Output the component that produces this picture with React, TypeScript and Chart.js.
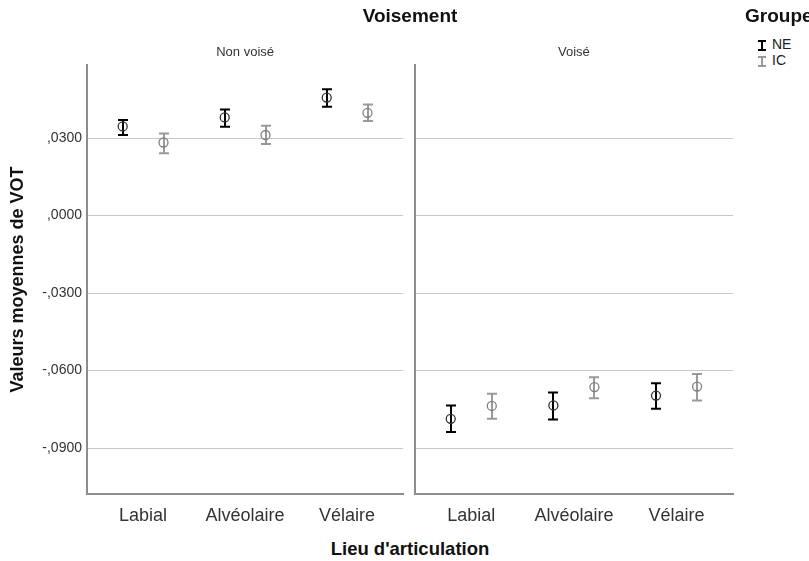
import React, { useEffect, useRef } from 'react';
import { Chart, registerables } from 'chart.js';

Chart.register(...registerables);

// ---------- data ----------
const categories = ['Labial', 'Alvéolaire', 'Vélaire'];
const groups = ['NE', 'IC'];
const yTickValues = [-0.09, -0.06, -0.03, 0, 0.03];

// Non voisé
const nonVoiseNEMean = [0.0345, 0.038, 0.0457];
const nonVoiseNELow = [0.0312, 0.0344, 0.0421];
const nonVoiseNEHigh = [0.037, 0.0411, 0.0489];
const nonVoiseICMean = [0.0283, 0.0312, 0.0398];
const nonVoiseICLow = [0.0241, 0.0277, 0.0366];
const nonVoiseICHigh = [0.0318, 0.0348, 0.043];

// Voisé
const voiseNEMean = [-0.0787, -0.0735, -0.0697];
const voiseNELow = [-0.0838, -0.079, -0.0748];
const voiseNEHigh = [-0.0735, -0.0685, -0.0649];
const voiseICMean = [-0.0737, -0.0664, -0.0662];
const voiseICLow = [-0.0787, -0.0707, -0.0716];
const voiseICHigh = [-0.069, -0.0626, -0.0613];

// ---------- style ----------
const FONT = "'Liberation Sans', Arial, sans-serif";
const NE_BAR = '#000000';
const NE_PT = '#333333';
const IC_BAR = '#999999';
const IC_PT = '#808080';
const GRID = '#c8c8c8';
const AXIS = '#8c8c8c';
const TEXT = '#333333';
const Y_MIN = -0.1078;
const Y_MAX = 0.0583;
const X_MIN = 0.45;
const X_MAX = 3.55;
const OFFSET = 0.2;

const fmtTick = (v: number) => {
  const s = Math.abs(v).toFixed(4).replace(/^0\./, ',');
  return (v < -1e-9 ? '-' : '') + s;
};

const errorBarPlugin = {
  id: 'errorBars',
  beforeDatasetsDraw(chart: any) {
    const { ctx, scales } = chart;
    const x = scales.x;
    const y = scales.y;
    chart.data.datasets.forEach((ds: any) => {
      ctx.save();
      ctx.strokeStyle = ds.errorColor;
      ctx.lineWidth = 2;
      ds.data.forEach((pt: any, j: number) => {
        const px = Math.round(x.getPixelForValue(pt.x));
        const yl = y.getPixelForValue(ds.errLow[j]);
        const yh = y.getPixelForValue(ds.errHigh[j]);
        ctx.beginPath();
        ctx.moveTo(px, yl);
        ctx.lineTo(px, yh);
        ctx.moveTo(px - 5, yl);
        ctx.lineTo(px + 5, yl);
        ctx.moveTo(px - 5, yh);
        ctx.lineTo(px + 5, yh);
        ctx.stroke();
      });
      ctx.restore();
    });
  },
};

type PanelProps = {
  title: string;
  neMean: number[];
  neLow: number[];
  neHigh: number[];
  icMean: number[];
  icLow: number[];
  icHigh: number[];
  showY: boolean;
  left: number;
  width: number;
  padRight: number;
  yWidth: number;
};

function Panel(p: PanelProps) {
  const ref = useRef<HTMLCanvasElement | null>(null);
  useEffect(() => {
    if (!ref.current) return;
    const mk = (means: number[], off: number) =>
      means.map((m, i) => ({ x: i + 1 + off, y: m }));
    const chart = new Chart(ref.current, {
      type: 'scatter',
      data: {
        datasets: [
          {
            label: groups[0],
            data: mk(p.neMean, -OFFSET),
            errLow: p.neLow,
            errHigh: p.neHigh,
            errorColor: NE_BAR,
            pointRadius: 4.5,
            pointBorderWidth: 1.3,
            pointBorderColor: NE_PT,
            pointBackgroundColor: 'rgba(0,0,0,0)',
          } as any,
          {
            label: groups[1],
            data: mk(p.icMean, OFFSET),
            errLow: p.icLow,
            errHigh: p.icHigh,
            errorColor: IC_BAR,
            pointRadius: 4.5,
            pointBorderWidth: 1.3,
            pointBorderColor: IC_PT,
            pointBackgroundColor: 'rgba(0,0,0,0)',
          } as any,
        ],
      },
      options: {
        responsive: false,
        animation: false,
        devicePixelRatio: 1,
        layout: { padding: { left: 0, right: p.padRight, top: 0, bottom: 0 } },
        plugins: {
          legend: { display: false },
          tooltip: { enabled: false },
          title: {
            display: true,
            text: p.title,
            fullSize: false,
            color: TEXT,
            font: { family: FONT, size: 13, weight: 'normal' },
            padding: { top: 45, bottom: 4.4 },
          },
        },
        scales: {
          x: {
            type: 'linear',
            min: X_MIN,
            max: X_MAX,
            afterBuildTicks: (s: any) => {
              s.ticks = categories.map((_, i) => ({ value: i + 1 }));
            },
            afterFit: (s: any) => {
              s.height = 36;
            },
            ticks: {
              callback: (v: any) => categories[Math.round(Number(v)) - 1] ?? '',
              color: TEXT,
              font: { family: FONT, size: 18 },
              padding: 11,
              maxRotation: 0,
              autoSkip: false,
            },
            grid: { display: false, drawTicks: false },
            border: { display: true, color: AXIS, width: 2 },
          },
          y: {
            type: 'linear',
            min: Y_MIN,
            max: Y_MAX,
            afterBuildTicks: (s: any) => {
              s.ticks = yTickValues.map((v) => ({ value: v }));
            },
            afterFit: (s: any) => {
              s.width = p.yWidth;
            },
            ticks: {
              display: p.showY,
              callback: (v: any) => fmtTick(Number(v)),
              color: TEXT,
              font: { family: FONT, size: 14 },
              padding: 5,
            },
            grid: { display: true, color: GRID, lineWidth: 1, drawTicks: false },
            border: { display: true, color: AXIS, width: 2 },
            title: {
              display: p.showY,
              text: 'Valeurs moyennes de VOT',
              color: '#111',
              font: { family: FONT, size: 18, weight: 'bold' },
              padding: { top: 7, bottom: 0 },
            },
          },
        },
      },
      plugins: [errorBarPlugin],
    } as any);
    return () => chart.destroy();
  }, []);
  return (
    <canvas
      ref={ref}
      width={p.width}
      height={530}
      style={{ position: 'absolute', left: p.left, top: 0, width: p.width, height: 530 }}
    />
  );
}

function LegendIcon({ color }: { color: string }) {
  return (
    <span
      style={{
        position: 'relative',
        display: 'inline-block',
        width: 8,
        height: 11,
        borderTop: `2px solid ${color}`,
        borderBottom: `2px solid ${color}`,
        boxSizing: 'border-box',
        marginRight: 6,
        verticalAlign: 'middle',
      }}
    >
      <span
        style={{
          position: 'absolute',
          left: 3,
          top: 0,
          width: 2,
          height: 7,
          background: color,
        }}
      />
    </span>
  );
}

export default function App() {
  return (
    <div
      style={{
        position: 'absolute',
        left: 0,
        top: 0,
        width: 809,
        height: 561,
        overflow: 'hidden',
        background: '#fff',
        fontFamily: FONT,
      }}
    >
      <Panel
        title="Non voisé"
        neMean={nonVoiseNEMean}
        neLow={nonVoiseNELow}
        neHigh={nonVoiseNEHigh}
        icMean={nonVoiseICMean}
        icLow={nonVoiseICLow}
        icHigh={nonVoiseICHigh}
        showY={true}
        left={0}
        width={409}
        padRight={4}
        yWidth={87}
      />
      <Panel
        title="Voisé"
        neMean={voiseNEMean}
        neLow={voiseNELow}
        neHigh={voiseNEHigh}
        icMean={voiseICMean}
        icLow={voiseICLow}
        icHigh={voiseICHigh}
        showY={false}
        left={409}
        width={330}
        padRight={6}
        yWidth={5}
      />
      <div
        style={{
          position: 'absolute',
          left: 310,
          width: 200,
          top: 5,
          textAlign: 'center',
          fontWeight: 'bold',
          fontSize: 19,
          color: '#111',
        }}
      >
        Voisement
      </div>
      <div
        style={{
          position: 'absolute',
          left: 260,
          width: 300,
          top: 538,
          textAlign: 'center',
          fontWeight: 'bold',
          fontSize: 18.5,
          color: '#111',
        }}
      >
        Lieu d'articulation
      </div>
      <div style={{ position: 'absolute', left: 745, top: 5, fontWeight: 'bold', fontSize: 19, color: '#111', whiteSpace: 'nowrap' }}>
        Groupe
      </div>
      <div style={{ position: 'absolute', left: 758, top: 36, fontSize: 14, color: '#222', lineHeight: '16px' }}>
        <div>
          <LegendIcon color={NE_BAR} />
          {groups[0]}
        </div>
        <div>
          <LegendIcon color={IC_BAR} />
          {groups[1]}
        </div>
      </div>
    </div>
  );
}
